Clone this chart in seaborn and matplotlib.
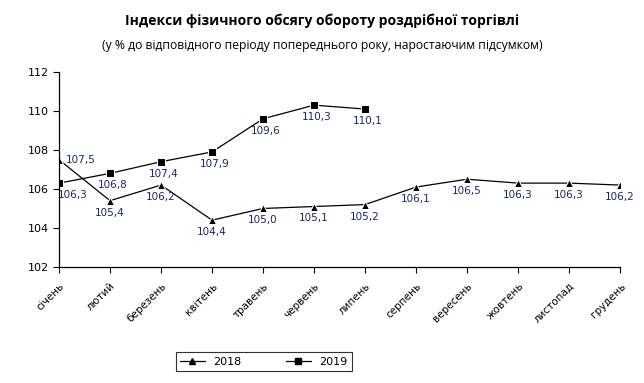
import pandas as pd
import seaborn as sns
import matplotlib.pyplot as plt

months = ["січень", "лютий", "березень", "квітень", "травень", "червень",
          "липень", "серпень", "вересень", "жовтень", "листопад", "грудень"]
vals_2018 = [107.5, 105.4, 106.2, 104.4, 105.0, 105.1, 105.2, 106.1, 106.5, 106.3, 106.3, 106.2]
vals_2019 = [106.3, 106.8, 107.4, 107.9, 109.6, 110.3, 110.1]
yticks = [102, 104, 106, 108, 110, 112]

df = pd.concat([
    pd.DataFrame({"month": months, "value": vals_2018, "year": "2018"}),
    pd.DataFrame({"month": months[:len(vals_2019)], "value": vals_2019, "year": "2019"}),
])

sns.set_style("white")
plt.rcParams["font.family"] = ["DejaVu Sans"]
plt.rcParams["text.color"] = "black"
plt.rcParams["xtick.color"] = "black"
plt.rcParams["ytick.color"] = "black"

fig = plt.figure(figsize=(6.44, 3.83), dpi=100)
ax = fig.add_axes([0.0916, 0.303, 0.8714, 0.509])

sns.lineplot(data=df, x="month", y="value", hue="year", style="year",
             markers={"2018": "^", "2019": "s"}, dashes=False,
             palette={"2018": "black", "2019": "black"},
             markersize=6, linewidth=0.9, sort=False, ax=ax, legend=False)

lab_col = "#14286e"
# підписи значень
for i, v in enumerate(vals_2018):
    if i == 0:
        ax.annotate(f"{v:.1f}".replace(".", ","), (i, v), xytext=(5, 0),
                    textcoords="offset points", ha="left", va="center",
                    fontsize=7.5, color=lab_col)
    else:
        ax.annotate(f"{v:.1f}".replace(".", ","), (i, v), xytext=(0, -5),
                    textcoords="offset points", ha="center", va="top",
                    fontsize=7.5, color=lab_col)
for i, v in enumerate(vals_2019):
    dx = 10 if i == 0 else 2
    ax.annotate(f"{v:.1f}".replace(".", ","), (i, v), xytext=(dx, -5),
                textcoords="offset points", ha="center", va="top",
                fontsize=7.5, color=lab_col)

ax.set_xlim(0, len(months) - 1)
ax.set_ylim(102, 112)
ax.set_yticks(yticks)
ax.set_yticklabels([str(t) for t in yticks], fontsize=8)
ax.set_xticks(range(len(months)))
ax.set_xticklabels(months, rotation=45, ha="right", va="top",
                   rotation_mode="anchor", fontsize=7.5)
ax.set_xlabel("")
ax.set_ylabel("")
ax.tick_params(axis="both", length=4, width=0.8, color="black", direction="out",
               bottom=True, left=True)
ax.tick_params(axis="x", pad=6)
sns.despine(ax=ax)
for s in ["left", "bottom"]:
    ax.spines[s].set_color("black")
    ax.spines[s].set_linewidth(0.9)

h1, = ax.plot([], [], color="black", marker="^", markersize=5, linewidth=0.9)
h2, = ax.plot([], [], color="black", marker="s", markersize=5, linewidth=0.9)
leg = fig.legend([h1, h2], ["2018", "2019"], loc="center",
                 bbox_to_anchor=(0.41, 0.055), ncol=2, frameon=True,
                 fancybox=False, edgecolor="black", fontsize=8,
                 columnspacing=4, handlelength=2.2, borderpad=0.4)
leg.get_frame().set_linewidth(0.8)

fig.text(0.5, 0.945, "Індекси фізичного обсягу обороту роздрібної торгівлі",
         ha="center", va="center", fontsize=10, fontweight="bold",
         color="black", family=["Open Sans", "DejaVu Sans"])
fig.text(0.5, 0.882, "(у % до відповідного періоду попереднього року, наростаючим підсумком)",
         ha="center", va="center", fontsize=8.7, color="black",
         family=["Open Sans", "DejaVu Sans"])

fig.savefig("out.png", dpi=100)
